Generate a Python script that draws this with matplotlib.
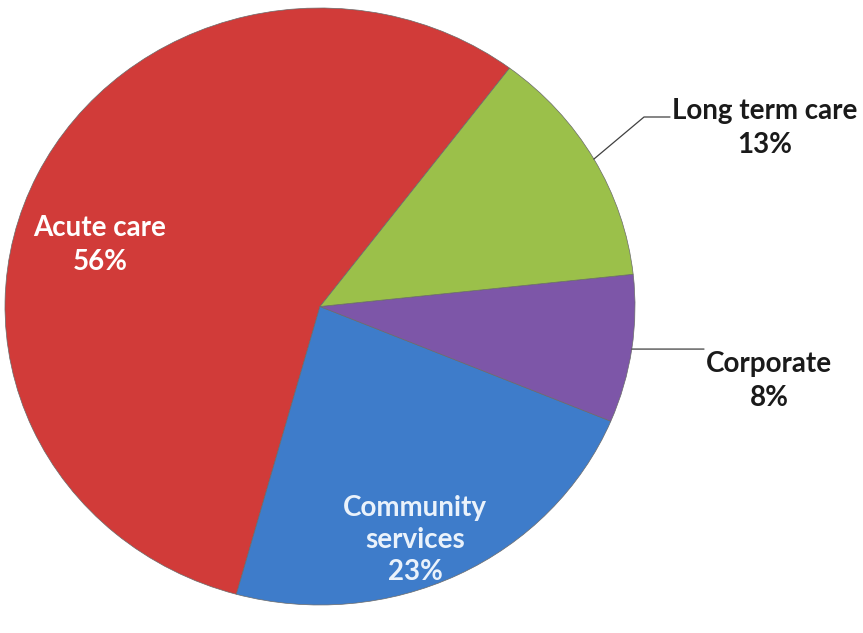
import matplotlib
matplotlib.use("Agg")
import numpy as np
import matplotlib.pyplot as plt

labels = ["Acute care", "Community services", "Corporate", "Long term care"]
values = [56, 23, 8, 13]
colors = ["#D13B39", "#3E7CCA", "#7D56A8", "#9BC04A"]

W, H = 863, 633
plt.rcParams["font.family"] = ["Lato", "DejaVu Sans"]

fig = plt.figure(figsize=(W / 100, H / 100), dpi=100)
fig.patch.set_facecolor("white")
# pie occupies an ellipse from x 5..635 px, y 8..605 px
ax = fig.add_axes([5 / W, 1 - 605 / H, 630 / W, 597 / H])
wedges, _ = ax.pie(values, colors=colors, startangle=53, counterclock=True,
                   wedgeprops=dict(edgecolor="#6a6a6a", linewidth=0.5))
ax.set_aspect("auto")
ax.set_xlim(-1, 1)
ax.set_ylim(-1, 1)


def px(x, y):
    return (x / W, 1 - y / H)


def mid(w):
    a = np.deg2rad((w.theta1 + w.theta2) / 2)
    return np.cos(a), np.sin(a)


fs = 20
# inside labels
fig.text(*px(100, 245), "Acute care\n56%", color="white", fontsize=fs, fontweight="bold",
         ha="center", va="center", linespacing=1.4)
fig.text(*px(415, 540), "Community\nservices\n23%", color="#EAF2FB", fontsize=fs,
         fontweight="bold", ha="center", va="center", linespacing=1.3)

# outside labels with leader lines
ax.annotate("", xy=mid(wedges[3]), xycoords="data", xytext=px(670, 117),
            textcoords="figure fraction",
            arrowprops=dict(arrowstyle="-", color="#404040", lw=0.9, shrinkA=0, shrinkB=0,
                            connectionstyle="angle,angleA=0,angleB=40,rad=0"))
fig.text(*px(765, 128), "Long term care\n13%", color="#1a1a1a", fontsize=fs, fontweight="bold",
         ha="center", va="center", linespacing=1.4)

ax.annotate("", xy=mid(wedges[2]), xycoords="data", xytext=(52, 0),
            textcoords="offset points",
            arrowprops=dict(arrowstyle="-", color="#404040", lw=0.9, shrinkA=0, shrinkB=0))
fig.text(*px(769, 381), "Corporate\n8%", color="#1a1a1a", fontsize=fs, fontweight="bold",
         ha="center", va="center", linespacing=1.4)

fig.savefig("out.png", dpi=100, facecolor="white")
